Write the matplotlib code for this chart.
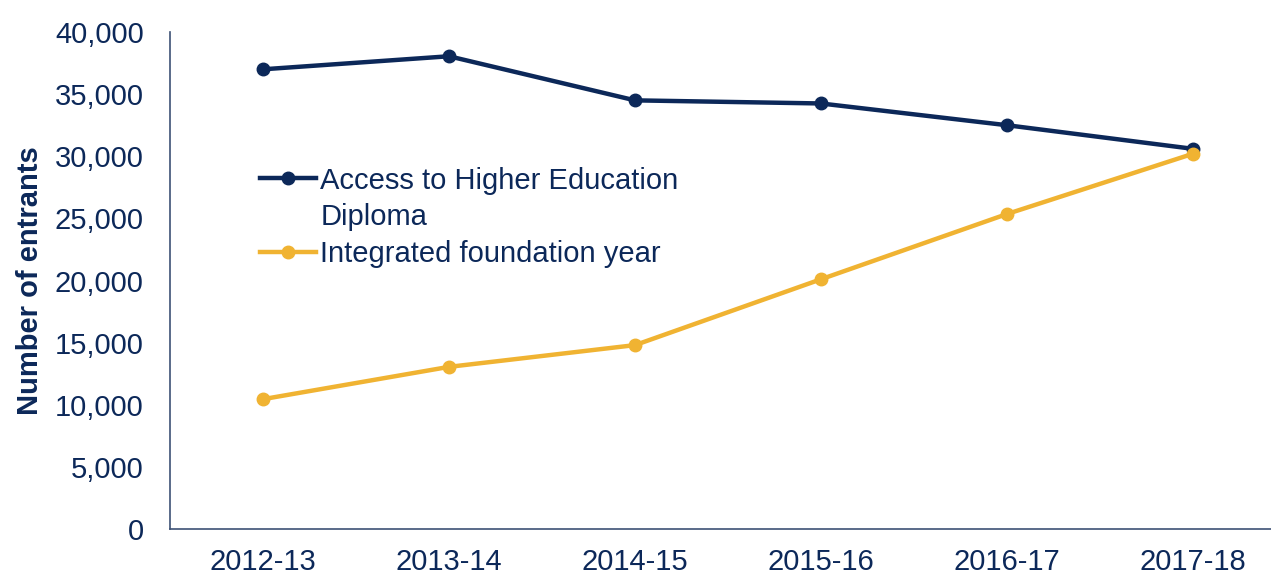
import matplotlib
matplotlib.use('Agg')
import matplotlib.pyplot as plt
from matplotlib.lines import Line2D
from matplotlib.ticker import FuncFormatter

years = ['2012-13', '2013-14', '2014-15', '2015-16', '2016-17', '2017-18']
access_he = [37000, 38050, 34500, 34250, 32500, 30600]
integrated_fy = [10450, 13050, 14800, 20100, 25350, 30200]

navy = '#0c2859'
gold = '#f0b332'

plt.rcParams['font.family'] = ['Liberation Sans', 'DejaVu Sans']

fig = plt.figure(figsize=(12.71, 5.76), dpi=100)
ax = fig.add_axes([0.1338, 0.0816, 0.8662, 0.8628])

x = range(len(years))
ax.plot(x, access_he, color=navy, lw=3.2, marker='o', ms=9, zorder=3)
ax.plot(x, integrated_fy, color=gold, lw=3.2, marker='o', ms=9, zorder=4)

ax.set_xlim(-0.5, 5.42)
ax.set_ylim(0, 40000)
ax.set_yticks(range(0, 40001, 5000))
ax.yaxis.set_major_formatter(FuncFormatter(lambda v, p: '{:,.0f}'.format(v)))
ax.set_xticks(list(x))
ax.set_xticklabels(years)

for s in ['top', 'right']:
    ax.spines[s].set_visible(False)
for s in ['left', 'bottom']:
    ax.spines[s].set_color('#3d5275')
    ax.spines[s].set_linewidth(1.2)

ax.tick_params(axis='both', length=0, labelsize=21, labelcolor=navy)
ax.tick_params(axis='y', pad=19)
ax.tick_params(axis='x', pad=14)

ax.set_ylabel('Number of entrants', fontsize=21, fontweight='bold', color=navy, labelpad=8)

handles = [
    Line2D([], [], color=navy, lw=3.2, marker='o', ms=9),
    Line2D([], [], linestyle='none'),
    Line2D([], [], color=gold, lw=3.2, marker='o', ms=9),
]
labels = ['Access to Higher Education', 'Diploma', 'Integrated foundation year']
leg = ax.legend(handles, labels, loc='upper left', bbox_to_anchor=(0.082, 0.729),
                frameon=False, fontsize=21, numpoints=1, handlelength=1.9,
                handletextpad=0.15, labelspacing=0.3, borderpad=0, borderaxespad=0)
for t in leg.get_texts():
    t.set_color(navy)

fig.savefig('out.png', dpi=100)
